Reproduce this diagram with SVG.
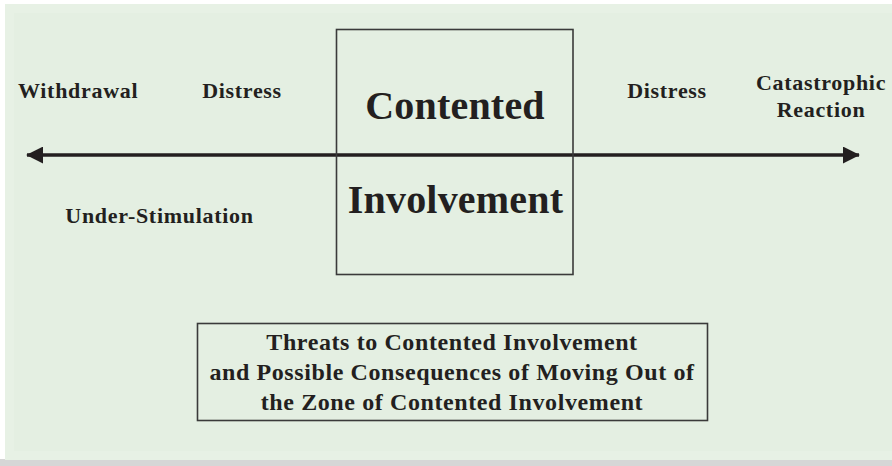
<svg xmlns="http://www.w3.org/2000/svg" width="892" height="466" viewBox="0 0 892 466">
  <defs>
    <style>
      .lbl { font-family: "Liberation Serif", "Times New Roman", serif; font-weight: bold; fill: #231f20; }
      .sm { font-size: 22px; letter-spacing: 0.7px; }
      .big { font-size: 40px; letter-spacing: 0.2px; }
      .mid { font-size: 24px; letter-spacing: 0.6px; }
      .box { fill: none; stroke: #3a3a3a; stroke-width: 1.6; }
    </style>
    <marker id="ah" viewBox="0 0 10 10" refX="9.5" refY="5" markerWidth="5" markerHeight="5" markerUnits="strokeWidth" orient="auto-start-reverse">
      <path d="M0,0 L10,5 L0,10 Z" fill="#231f20"/>
    </marker>
  </defs>
  <rect x="0" y="0" width="892" height="466" fill="#ffffff"/>
  <rect x="0" y="459" width="892" height="7" fill="#d6d6d6"/>
  <rect x="5" y="4" width="887" height="456" fill="#e7f1e5"/>
  <rect x="14" y="13" width="878" height="438" fill="#e4efe2"/>

  <g id="connectors">
    <line x1="27" y1="155" x2="859" y2="155" stroke="#231f20" stroke-width="3.4" marker-start="url(#ah)" marker-end="url(#ah)"/>
  </g>

  <g id="contented-involvement">
    <rect class="box" x="336.5" y="29.5" width="236.5" height="245"/>
    <text class="lbl big" x="455" y="119" text-anchor="middle">Contented</text>
    <text class="lbl big" x="455.5" y="213" text-anchor="middle">Involvement</text>
  </g>

  <g id="withdrawal">
    <text class="lbl sm" x="18" y="98">Withdrawal</text>
  </g>
  <g id="distress-left">
    <text class="lbl sm" x="242" y="98" text-anchor="middle">Distress</text>
  </g>
  <g id="distress-right">
    <text class="lbl sm" x="667" y="98" text-anchor="middle">Distress</text>
  </g>
  <g id="catastrophic-reaction">
    <text class="lbl sm" x="821" y="90" text-anchor="middle">Catastrophic</text>
    <text class="lbl sm" x="821" y="117" text-anchor="middle">Reaction</text>
  </g>
  <g id="under-stimulation">
    <text class="lbl sm" x="159.5" y="223" text-anchor="middle">Under-Stimulation</text>
  </g>

  <g id="threats">
    <rect class="box" x="197.5" y="323.5" width="510" height="97"/>
    <text class="lbl mid" x="452" y="350" text-anchor="middle">Threats to Contented Involvement</text>
    <text class="lbl mid" x="452" y="380" text-anchor="middle">and Possible Consequences of Moving Out of</text>
    <text class="lbl mid" x="452" y="410" text-anchor="middle">the Zone of Contented Involvement</text>
  </g>
</svg>
